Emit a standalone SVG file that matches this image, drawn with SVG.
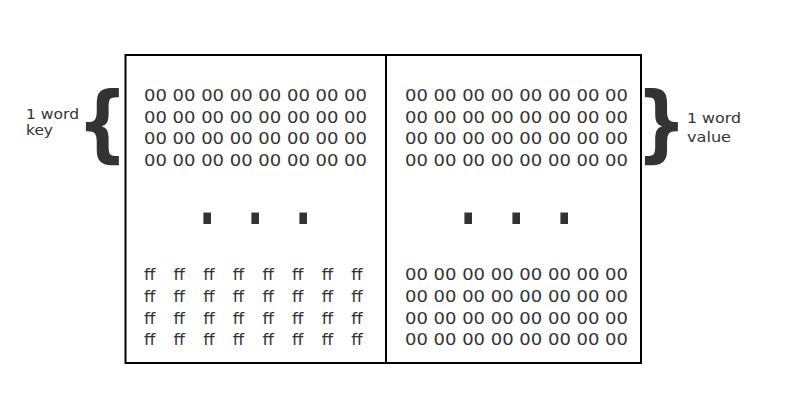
<svg xmlns="http://www.w3.org/2000/svg" width="800" height="400" viewBox="0 0 800 400">
<style>
.t{font-family:"DejaVu Sans",sans-serif;fill:#333;}
.b{font-size:16.5px;}
.l{font-size:14.5px;}
.d{font-size:60px;font-weight:bold;}
.br{font-size:83px;font-weight:bold;}
</style>
<rect width="800" height="400" fill="#fff"/>
<g id="table">
<rect x="125.5" y="55" width="515.5" height="308" fill="none" stroke="#000" stroke-width="2"/>
<line x1="386" y1="55" x2="386" y2="363" stroke="#000" stroke-width="2"/>
</g>
<g id="key-col" class="t b">
<text x="144" y="101" textLength="223" lengthAdjust="spacingAndGlyphs">00 00 00 00 00 00 00 00</text>
<text x="144" y="122.5" textLength="223" lengthAdjust="spacingAndGlyphs">00 00 00 00 00 00 00 00</text>
<text x="144" y="144" textLength="223" lengthAdjust="spacingAndGlyphs">00 00 00 00 00 00 00 00</text>
<text x="144" y="165.5" textLength="223" lengthAdjust="spacingAndGlyphs">00 00 00 00 00 00 00 00</text>
<text x="144" y="280" word-spacing="13">ff ff ff ff ff ff ff ff</text>
<text x="144" y="302" word-spacing="13">ff ff ff ff ff ff ff ff</text>
<text x="144" y="323.5" word-spacing="13">ff ff ff ff ff ff ff ff</text>
<text x="144" y="345" word-spacing="13">ff ff ff ff ff ff ff ff</text>
</g>
<g id="value-col" class="t b">
<text x="405" y="101" textLength="223" lengthAdjust="spacingAndGlyphs">00 00 00 00 00 00 00 00</text>
<text x="405" y="122.5" textLength="223" lengthAdjust="spacingAndGlyphs">00 00 00 00 00 00 00 00</text>
<text x="405" y="144" textLength="223" lengthAdjust="spacingAndGlyphs">00 00 00 00 00 00 00 00</text>
<text x="405" y="165.5" textLength="223" lengthAdjust="spacingAndGlyphs">00 00 00 00 00 00 00 00</text>
<text x="405" y="280" textLength="223" lengthAdjust="spacingAndGlyphs">00 00 00 00 00 00 00 00</text>
<text x="405" y="302" textLength="223" lengthAdjust="spacingAndGlyphs">00 00 00 00 00 00 00 00</text>
<text x="405" y="323.5" textLength="223" lengthAdjust="spacingAndGlyphs">00 00 00 00 00 00 00 00</text>
<text x="405" y="345" textLength="223" lengthAdjust="spacingAndGlyphs">00 00 00 00 00 00 00 00</text>
</g>
<g id="ellipsis" class="t d">
<text transform="translate(199,224) scale(0.72,1)" word-spacing="23">. . .</text>
<text transform="translate(460,224) scale(0.72,1)" word-spacing="23">. . .</text>
</g>
<g id="key-label" class="t">
<text class="br" transform="translate(77,152) scale(0.86,1)">{</text>
<text class="l" x="26" y="119" textLength="53" lengthAdjust="spacingAndGlyphs">1 word</text>
<text class="l" x="26" y="135" textLength="27" lengthAdjust="spacingAndGlyphs">key</text>
</g>
<g id="value-label" class="t">
<text class="br" transform="translate(636,152) scale(0.86,1)">}</text>
<text class="l" x="687" y="122.5" textLength="54" lengthAdjust="spacingAndGlyphs">1 word</text>
<text class="l" x="687" y="142" textLength="44" lengthAdjust="spacingAndGlyphs">value</text>
</g>
</svg>
